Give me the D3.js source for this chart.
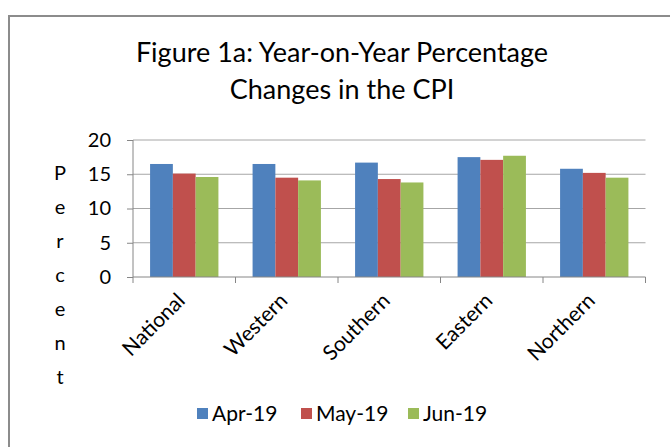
<!DOCTYPE html>
<html lang="en">
<head>
  <meta charset="utf-8">
  <title>Year-on-Year Percentage Changes in the CPI</title>
  <script src="https://d3js.org/d3.v7.min.js"></script>
  <style>
    body { margin: 0; background: #fff; }
    svg { display: block; font-family: Lato, "Open Sans", sans-serif; }
  </style>
</head>
<body>
<svg width="670" height="447"></svg>
<script>
  // data
  var regions = ["National", "Western", "Southern", "Eastern", "Northern"];
  var months = ["Apr-19", "May-19", "Jun-19"];
  var apr19 = [16.5, 16.5, 16.7, 17.5, 15.8];
  var may19 = [15.1, 14.5, 14.3, 17.1, 15.2];
  var jun19 = [14.6, 14.1, 13.8, 17.7, 14.5];
  var yTicks = [0, 5, 10, 15, 20];
  var colors = ["#4f81bd", "#c0504d", "#9bbb59"];

  var seriesValues = [apr19, may19, jun19];
  var data = regions.map(function(r, i) {
    return { region: r, values: months.map(function(m, j) { return { month: m, value: seriesValues[j][i] }; }) };
  });

  var svg = d3.select("svg");

  // outer chart border (left + top only visible)
  svg.append("path")
     .attr("d", "M9,450 V16 H672")
     .attr("fill", "none")
     .attr("stroke", "#8c8c8c")
     .attr("stroke-width", 2);

  var plotLeft = 133, plotRight = 645.5, plotTop = 140, plotBottom = 277;

  var x0 = d3.scaleBand().domain(regions).range([plotLeft, plotRight]).paddingInner(0).paddingOuter(0);
  var x1 = d3.scaleBand().domain(months).range([0, x0.bandwidth()]).paddingOuter(0.75).paddingInner(0);
  var y = d3.scaleLinear().domain([0, 20]).range([plotBottom, plotTop]);

  // gridlines
  svg.append("g")
     .selectAll("line")
     .data(yTicks.slice(1))
     .enter().append("line")
     .attr("x1", plotLeft).attr("x2", plotRight)
     .attr("y1", function(d) { return y(d); })
     .attr("y2", function(d) { return y(d); })
     .attr("stroke", "#a6a6a6")
     .attr("stroke-width", 1);

  // bars
  var groups = svg.append("g")
     .selectAll("g")
     .data(data)
     .enter().append("g")
     .attr("transform", function(d) { return "translate(" + x0(d.region) + ",0)"; });

  groups.selectAll("rect")
     .data(function(d) { return d.values; })
     .enter().append("rect")
     .attr("x", function(d) { return x1(d.month); })
     .attr("width", x1.bandwidth())
     .attr("y", function(d) { return y(d.value); })
     .attr("height", function(d) { return y(0) - y(d.value); })
     .attr("fill", function(d, j) { return colors[j]; });

  // y axis
  var yAxis = svg.append("g")
     .attr("transform", "translate(" + plotLeft + ",0)")
     .call(d3.axisLeft(y).tickValues(yTicks).tickSize(6).tickPadding(8));
  yAxis.select(".domain").attr("stroke", "#868686").attr("d", "M0," + plotTop + "V" + plotBottom);
  yAxis.selectAll(".tick line").attr("stroke", "#868686");
  yAxis.selectAll(".tick text")
     .attr("font-size", 20)
     .attr("font-family", "Lato, sans-serif")
     .attr("fill", "#000")
     .attr("x", -22);

  // x axis: ticks at category boundaries
  var xAxisG = svg.append("g");
  xAxisG.append("line")
     .attr("x1", plotLeft).attr("x2", plotRight)
     .attr("y1", plotBottom).attr("y2", plotBottom)
     .attr("stroke", "#868686");
  var bounds = regions.map(function(r) { return x0(r); }).concat([plotRight]);
  xAxisG.selectAll(".bt")
     .data(bounds)
     .enter().append("line")
     .attr("x1", function(d) { return d; }).attr("x2", function(d) { return d; })
     .attr("y1", plotBottom).attr("y2", plotBottom + 6)
     .attr("stroke", "#868686");

  xAxisG.selectAll("text")
     .data(regions)
     .enter().append("text")
     .attr("transform", function(d) {
       return "translate(" + (x0(d) + x0.bandwidth() / 2 + 2) + "," + (plotBottom + 25) + ") rotate(-45)";
     })
     .attr("text-anchor", "end")
     .attr("font-size", 21)
     .attr("fill", "#000")
     .text(function(d) { return d; });

  // y label, stacked letters
  var label = "Percent".split("");
  svg.append("g")
     .selectAll("text")
     .data(label)
     .enter().append("text")
     .attr("x", 60)
     .attr("y", function(d, i) { return 180 + i * 34; })
     .attr("text-anchor", "middle")
     .attr("font-size", 20)
     .attr("fill", "#000")
     .text(function(d) { return d; });

  // title
  var title = svg.append("text")
     .attr("text-anchor", "middle")
     .attr("font-size", 27)
     .attr("fill", "#000");
  title.append("tspan").attr("x", 342).attr("y", 62).text("Figure 1a: Year-on-Year Percentage");
  title.append("tspan").attr("x", 342).attr("y", 99).text("Changes in the CPI");

  // legend
  var legendX = [197, 301, 408];
  var legend = svg.append("g")
     .selectAll("g")
     .data(months)
     .enter().append("g")
     .attr("transform", function(d, i) { return "translate(" + legendX[i] + ",408)"; });
  legend.append("rect")
     .attr("width", 11).attr("height", 11)
     .attr("fill", function(d, i) { return colors[i]; });
  legend.append("text")
     .attr("x", 15).attr("y", 13)
     .attr("font-size", 21)
     .attr("fill", "#000")
     .text(function(d) { return d; });
</script>
</body>
</html>
